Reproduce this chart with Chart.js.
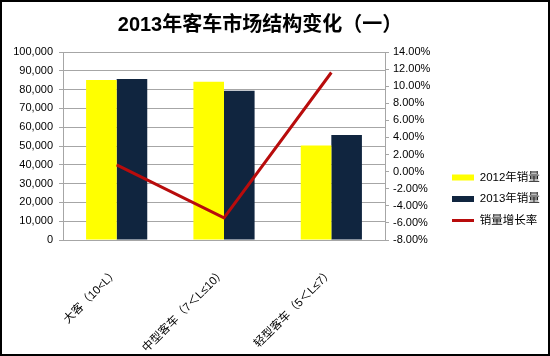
<!DOCTYPE html>
<html>
<head>
<meta charset="utf-8">
<script src="https://cdn.jsdelivr.net/npm/chart.js@4"></script>
<style>
html,body{margin:0;padding:0;background:#fff;}
#wrap{position:absolute;left:0;top:0;width:550px;height:356px;box-sizing:border-box;border:2px solid #000;background:#fff;}
#c{display:block;}
</style>
</head>
<body>
<div id="wrap"><canvas id="c" width="546" height="352"></canvas></div>
<script>
const categories = ['大客（10<L）', '中型客车（7＜L≤10）', '轻型客车（5＜L≤7）'];
const sales2012 = [85100, 84200, 50200];
const sales2013 = [85600, 79400, 55850];
const growthRate = [0.8, -5.4, 11.6];
const leftTicks = [0, 100000, 10000];
const rightTicks = [-8, 14, 2];
const seriesNames = ['2012年销量', '2013年销量', '销量增长率'];
const titleText = '2013年客车市场结构变化（一）';

const FONT = '"Liberation Sans", "Noto Sans CJK SC", sans-serif';
const GRID = '#a6a6a6';

const tweak = {
  id: 'tweak',
  afterLayout(chart) {
    const t = chart.titleBlock;
    if (t) { t.right -= 30; }
    const lg = chart.legend;
    if (lg) {
      lg.left = 440; lg.right = 546; lg.width = 106;
      lg.top += 21; lg.bottom += 21;
    }
  }
};

new Chart(document.getElementById('c'), {
  type: 'bar',
  data: {
    labels: categories,
    datasets: [
      { label: seriesNames[0], data: sales2012, backgroundColor: '#ffff00', borderWidth: 0, yAxisID: 'y', order: 1, pointStyle: 'rect' },
      { label: seriesNames[1], data: sales2013, backgroundColor: '#10253f', borderWidth: 0, yAxisID: 'y', order: 1, pointStyle: 'rect' },
      { type: 'line', label: seriesNames[2], data: growthRate, borderColor: '#b80c0c', backgroundColor: '#b80c0c', borderWidth: 3, pointRadius: 0, pointHoverRadius: 0, tension: 0, yAxisID: 'y1', order: 0, pointStyle: 'line' }
    ]
  },
  options: {
    responsive: false,
    animation: false,
    devicePixelRatio: 1,
    layout: { padding: { left: 0, right: 0, top: 0, bottom: 0 } },
    datasets: { bar: { categoryPercentage: 0.57, barPercentage: 1.0 } },
    plugins: {
      title: {
        display: true, text: titleText, color: '#000',
        font: { family: FONT, size: 20, weight: 'bold', lineHeight: 1.2 },
        padding: { top: 11, bottom: 15 }
      },
      legend: {
        position: 'right',
        labels: {
          usePointStyle: true, pointStyleWidth: 22, boxHeight: 6, padding: 10,
          color: '#000', font: { family: FONT, size: 11.5 },
          sort: (a, b) => a.datasetIndex - b.datasetIndex
        }
      },
      tooltip: { enabled: false }
    },
    scales: {
      x: {
        grid: { display: true, drawOnChartArea: false, drawTicks: false },
        border: { display: true, color: GRID, width: 1 },
        ticks: { color: '#000', minRotation: 45, maxRotation: 45, padding: 26, font: { family: FONT, size: 11.5 } },
        afterFit(s) { s.height = 114; }
      },
      y: {
        position: 'left', min: leftTicks[0], max: leftTicks[1],
        grid: { color: GRID, tickLength: 4, drawTicks: true },
        border: { display: true, color: GRID },
        ticks: { stepSize: leftTicks[2], color: '#000', padding: 6, font: { family: FONT, size: 11 },
          callback: v => v.toLocaleString('en-US') },
        afterFit(s) { s.width = 61; }
      },
      y1: {
        position: 'right', min: rightTicks[0], max: rightTicks[1],
        grid: { drawOnChartArea: false, color: GRID, tickLength: 4, drawTicks: true },
        border: { display: true, color: GRID },
        ticks: { stepSize: rightTicks[2], color: '#000', padding: 4, font: { family: FONT, size: 11 },
          callback: v => v.toFixed(2) + '%' },
        afterFit(s) { s.width = 72; }
      }
    }
  },
  plugins: [tweak]
});
</script>
</body>
</html>
